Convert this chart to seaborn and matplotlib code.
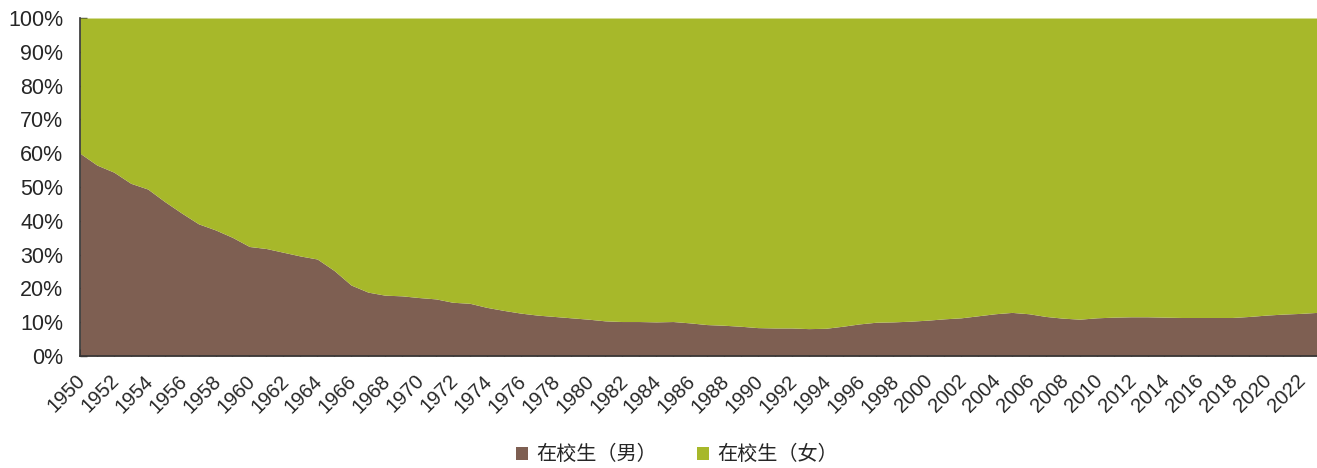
import numpy as np
import pandas as pd
import matplotlib
matplotlib.use("Agg")
import matplotlib.pyplot as plt
import matplotlib.transforms as mtransforms
import seaborn as sns
from matplotlib.ticker import PercentFormatter, MultipleLocator

years = list(range(1950, 2024))
male_share = [
    60.0, 56.5, 54.4, 51.1, 49.4, 45.7, 42.3, 39.1, 37.3, 35.1,
    32.4, 31.8, 30.7, 29.6, 28.7, 25.3, 21.0, 18.9, 18.0, 17.8,
    17.3, 16.9, 15.9, 15.6, 14.4, 13.5, 12.7, 12.1, 11.7, 11.3,
    10.9, 10.4, 10.2, 10.2, 10.1, 10.2, 9.8, 9.3, 9.1, 8.8,
    8.4, 8.3, 8.3, 8.1, 8.2, 8.8, 9.5, 10.0, 10.1, 10.3,
    10.6, 11.0, 11.3, 11.9, 12.5, 12.9, 12.5, 11.7, 11.2, 10.9,
    11.3, 11.5, 11.6, 11.6, 11.5, 11.4, 11.4, 11.4, 11.4, 11.7,
    12.1, 12.4, 12.6, 12.9,
]
female_share = [100.0 - m for m in male_share]
series_names = ["在校生（男）", "在校生（女）"]
colors = ["#7E5F52", "#A7B82A"]

df = pd.DataFrame({"year": years, series_names[0]: male_share, series_names[1]: female_share})

sns.set_theme(style="white")
plt.rcParams["font.family"] = ["Liberation Sans", "Noto Sans CJK SC", "DejaVu Sans"]

fig = plt.figure(figsize=(13.17, 4.68), dpi=100)
ax = fig.add_axes([0.0607, 0.2393, 0.9393, 0.7222])

ax.stackplot(df["year"], df[series_names[0]], df[series_names[1]],
             colors=colors, labels=series_names, linewidth=0)

ax.set_xlim(1950, 2023)
ax.set_ylim(0, 100)
ax.yaxis.set_major_locator(MultipleLocator(10))
ax.yaxis.set_major_formatter(PercentFormatter(decimals=0))
ax.set_xticks(years, minor=True)
ax.set_xticks(years[::2])
ax.set_xticklabels([str(y) for y in years[::2]], rotation=45, ha="right",
                   rotation_mode="anchor", fontsize=14.5)
ax.tick_params(axis="y", labelsize=15.5, direction="in", length=5, width=1,
               color="#333333", left=True, pad=12)
ax.tick_params(axis="x", which="both", direction="in", length=5, width=1,
               color="#333333", bottom=True)
ax.tick_params(axis="x", which="major", pad=11)

offset = mtransforms.ScaledTranslation(-3 / 72, 0, fig.dpi_scale_trans)
for lbl in ax.get_xticklabels():
    lbl.set_transform(lbl.get_transform() + offset)

for s in ["top", "right"]:
    ax.spines[s].set_visible(False)
for s in ["left", "bottom"]:
    ax.spines[s].set_color("#333333")
    ax.spines[s].set_linewidth(1.2)
ax.set_xlabel("")
ax.set_ylabel("")

handles, labels = ax.get_legend_handles_labels()
leg = fig.legend(handles, labels, loc="center", bbox_to_anchor=(0.514, 0.028),
                 ncol=2, frameon=False, handlelength=0.6, handleheight=0.6,
                 handletextpad=0.4, columnspacing=2.0,
                 prop={"family": ["Noto Sans CJK SC", "DejaVu Sans"], "size": 14.5})

fig.savefig("out.png", dpi=100)
